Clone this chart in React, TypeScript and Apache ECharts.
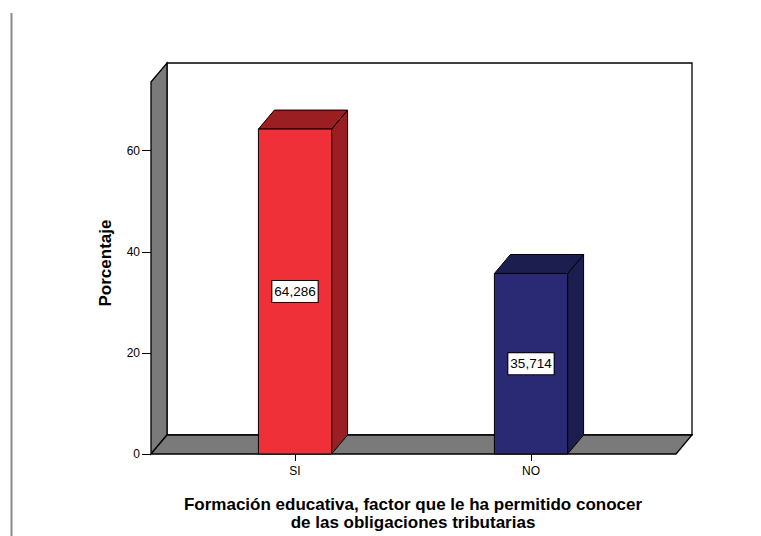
import React, { useEffect, useRef } from "react";
import * as echarts from "echarts";

const categories: string[] = ["SI", "NO"];
const percentages: number[] = [64.286, 35.714];
const yTicks: number[] = [0, 20, 40, 60];
const yMax = 73.6;
const frontColors: string[] = ["#ef3039", "#292a73"];
const sideColors: string[] = ["#9b1e23", "#1d1e50"];

const DX = 16;
const DY = -19;
const OVERHANG_L = 26;
const OVERHANG_R = 27;
const FONT = "'Liberation Sans', Arial, sans-serif";

export default function App() {
  const ref = useRef<HTMLDivElement>(null);
  useEffect(() => {
    if (!ref.current) return;
    const chart = echarts.init(ref.current, null, { renderer: "svg" });
    const fmt = (v: number) => v.toFixed(3).replace(".", ",");
    const option: any = {
      animation: false,
      backgroundColor: "#ffffff",
      grid: { left: 177, right: 112, top: 82, bottom: 79 },
      graphic: [
        {
          type: "line",
          shape: { x1: 11.5, y1: 13, x2: 11.5, y2: 536 },
          style: { stroke: "#8a8a8a", lineWidth: 2 },
        },
      ],
      xAxis: {
        type: "category",
        data: categories,
        axisLine: { show: false },
        axisTick: { show: true, alignWithLabel: true, length: 7, lineStyle: { color: "#000", width: 1 } },
        axisLabel: { color: "#000", fontSize: 12, fontFamily: FONT, margin: 11 },
        name: "Formación educativa, factor que le ha permitido conocer\nde las obligaciones tributarias",
        nameLocation: "middle",
        nameGap: 41,
        nameTextStyle: { color: "#000", fontSize: 17, fontWeight: "bold", fontFamily: FONT, lineHeight: 18 },
        z: 10,
      },
      yAxis: {
        type: "value",
        min: 0,
        max: yMax,
        interval: 20,
        offset: OVERHANG_L,
        splitLine: { show: false },
        axisLine: { show: false },
        axisTick: { show: true, length: 9, customValues: yTicks, lineStyle: { color: "#000", width: 1 } },
        axisLabel: { color: "#000", fontSize: 12, fontFamily: FONT, margin: 11, customValues: yTicks },
        name: "Porcentaje",
        nameLocation: "middle",
        nameGap: 37,
        nameRotate: 90,
        nameTextStyle: { color: "#000", fontSize: 17, fontWeight: "bold", fontFamily: FONT, padding: [0, 0, 0, 10] },
      },
      series: [
        {
          type: "custom",
          z: 1,
          silent: true,
          data: [[0, 0]],
          renderItem: (params: any, api: any) => {
            const cs = params.coordSys;
            const x0 = cs.x - OVERHANG_L;
            const x1 = cs.x + cs.width + OVERHANG_R;
            const yTop = api.coord([0, yMax])[1];
            const yBot = api.coord([0, 0])[1];
            const stroke = { stroke: "#000", lineWidth: 1.3 };
            return {
              type: "group",
              children: [
                {
                  type: "rect",
                  shape: { x: x0 + DX, y: yTop + DY, width: x1 - x0, height: yBot - yTop },
                  style: { fill: "#ffffff", ...stroke },
                },
                {
                  type: "polygon",
                  shape: { points: [[x0, yTop], [x0 + DX, yTop + DY], [x0 + DX, yBot + DY], [x0, yBot]] },
                  style: { fill: "#7a7a7a", ...stroke },
                },
                {
                  type: "polygon",
                  shape: { points: [[x0, yBot], [x0 + DX, yBot + DY], [x1 + DX, yBot + DY], [x1, yBot]] },
                  style: { fill: "#7a7a7a", ...stroke },
                },
              ],
            };
          },
        },
        {
          type: "custom",
          z: 2,
          data: percentages.map((v, i) => [i, v]),
          renderItem: (params: any, api: any) => {
            const i = api.value(0);
            const v = api.value(1);
            const base = api.coord([i, 0]);
            const top = api.coord([i, v]);
            const bw = api.size([1, 0])[0] * 0.31;
            const l = base[0] - bw / 2;
            const r = base[0] + bw / 2;
            const yT = top[1];
            const yB = base[1];
            const stroke = { stroke: "#000", lineWidth: 1 };
            return {
              type: "group",
              children: [
                {
                  type: "polygon",
                  shape: { points: [[r, yT], [r + DX, yT + DY], [r + DX, yB + DY], [r, yB]] },
                  style: { fill: sideColors[i], ...stroke },
                },
                {
                  type: "polygon",
                  shape: { points: [[l, yT], [l + DX, yT + DY], [r + DX, yT + DY], [r, yT]] },
                  style: { fill: sideColors[i], ...stroke },
                },
                {
                  type: "rect",
                  shape: { x: l, y: yT, width: bw, height: yB - yT },
                  style: { fill: frontColors[i], ...stroke },
                },
                {
                  type: "text",
                  x: base[0],
                  y: (yT + yB) / 2,
                  style: {
                    text: fmt(v),
                    align: "center",
                    verticalAlign: "middle",
                    fill: "#000",
                    fontSize: 13.5,
                    fontFamily: FONT,
                    backgroundColor: "#ffffff",
                    borderColor: "#000",
                    borderWidth: 1,
                    padding: [4, 2, 3, 2],
                  },
                },
              ],
            };
          },
        },
      ],
    };
    chart.setOption(option);
    return () => chart.dispose();
  }, []);
  return (
    <div
      ref={ref}
      style={{ position: "fixed", left: 0, top: 0, width: 761, height: 536 }}
    />
  );
}
